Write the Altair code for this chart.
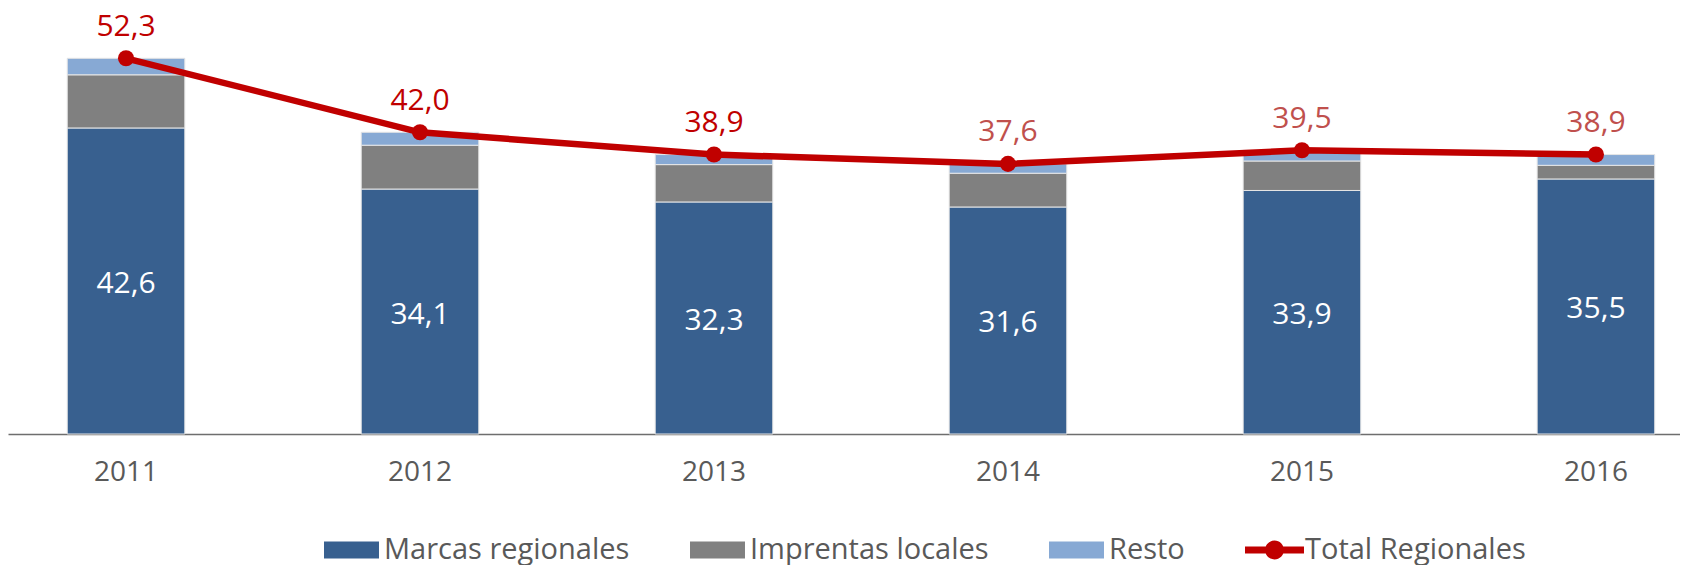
import altair as alt
import pandas as pd

# ---- data ----
years = ["2011", "2012", "2013", "2014", "2015", "2016"]
marcas = [42.6, 34.1, 32.3, 31.6, 33.9, 35.5]
imprentas = [7.4, 6.1, 5.2, 4.7, 4.1, 1.9]
resto = [2.3, 1.8, 1.4, 1.3, 1.5, 1.5]
total = [52.3, 42.0, 38.9, 37.6, 39.5, 38.9]
series = ["Marcas regionales", "Imprentas locales", "Resto", "Total Regionales"]

# ---- styles ----
colors = ["#38608F", "#808080", "#87A9D4", "#C00000"]
RED = "#C00000"
RED_LIGHT = "#C0504D"
GREY_TXT = "#595959"
FONT = "Open Sans"

rows = []
for i, yr in enumerate(years):
    for k, (name, vals) in enumerate(zip(series[:3], [marcas, imprentas, resto])):
        rows.append({"year": yr, "serie": name, "value": vals[i], "order": k})
bars_df = pd.DataFrame(rows)
tot_df = pd.DataFrame({"year": years, "total": total})

yscale = alt.Scale(domain=[0, 59.3], nice=False, zero=True)
xenc = alt.X(
    "year:N",
    sort=years,
    title=None,
    scale=alt.Scale(paddingInner=0.6, paddingOuter=0.1437, align=0.701),
    axis=alt.Axis(
        labelAngle=0, ticks=False, labelFontSize=28, labelColor=GREY_TXT,
        labelFont=FONT, labelPadding=24, domainColor="#6E6E6E", domainWidth=1.5,
        grid=False,
    ),
)

bars = alt.Chart(bars_df).mark_bar(stroke="#E6E6E6", strokeWidth=1, opacity=1).encode(
    x=xenc,
    y=alt.Y("value:Q", stack="zero", scale=yscale, axis=None),
    color=alt.Color("serie:N", scale=alt.Scale(domain=series, range=colors), legend=None),
    order=alt.Order("order:Q", sort="ascending"),
)

bar_labels = (
    alt.Chart(bars_df)
    .transform_filter(alt.datum.order == 0)
    .transform_calculate(mid="datum.value / 2",
                         lab="replace(format(datum.value, '.1f'), '.', ',')")
    .mark_text(color="white", fontSize=30, dy=3, baseline="middle", font=FONT)
    .encode(x=xenc, y=alt.Y("mid:Q", scale=yscale, axis=None), text="lab:N")
)

line = alt.Chart(tot_df).mark_line(color=RED, strokeWidth=6.5, strokeCap="round").encode(
    x=xenc, y=alt.Y("total:Q", scale=yscale, axis=None)
)
pts = alt.Chart(tot_df).mark_circle(color=RED, size=260, opacity=1).encode(
    x=xenc, y=alt.Y("total:Q", scale=yscale, axis=None)
)
line_labels = (
    alt.Chart(tot_df)
    .transform_calculate(lab="replace(format(datum.total, '.1f'), '.', ',')")
    .mark_text(fontSize=30, dy=-31.5, baseline="middle", font=FONT)
    .encode(
        x=xenc,
        y=alt.Y("total:Q", scale=yscale, axis=None),
        text="lab:N",
        color=alt.condition("toNumber(datum.year) >= 2014", alt.value(RED_LIGHT), alt.value(RED)),
    )
)

rect_path = "M-1,-0.5H2.235V0.5H-1Z"
line_path = ("M-1,-0.206H2.47V0.206H-1Z "
             "M0.18,0A0.555,0.555 0 1,1 1.29,0A0.555,0.555 0 1,1 0.18,0Z")
shapes = [rect_path, rect_path, rect_path, line_path]

leg = alt.Legend(
    title=None, orient="none", legendX=316, legendY=525, direction="horizontal",
    columns=4, symbolSize=1156, symbolStrokeWidth=0, symbolOpacity=1,
    labelOffset=26, labelFontSize=29, labelColor=GREY_TXT, labelFont=FONT,
    columnPadding=60, labelLimit=600, padding=0,
)

legend_layer = (
    alt.Chart(bars_df)
    .transform_filter("false")
    .mark_point(filled=True, opacity=1)
    .encode(
        x=xenc,
        y=alt.Y("value:Q", scale=yscale, axis=None),
        color=alt.Color("serie:N", scale=alt.Scale(domain=series, range=colors), legend=leg),
        shape=alt.Shape("serie:N", scale=alt.Scale(domain=series, range=shapes), legend=leg),
    )
)

chart = (
    alt.layer(legend_layer, bars, bar_labels, line, pts, line_labels)
    .resolve_legend(color="independent", shape="independent")
    .properties(width=1672, height=426,
                padding={"left": 0, "top": 0, "right": 0, "bottom": 4})
    .configure(font=FONT)
    .configure_view(stroke="transparent", strokeWidth=0)
)

chart.save("out.html", embed_options={"renderer": "svg", "actions": False})
